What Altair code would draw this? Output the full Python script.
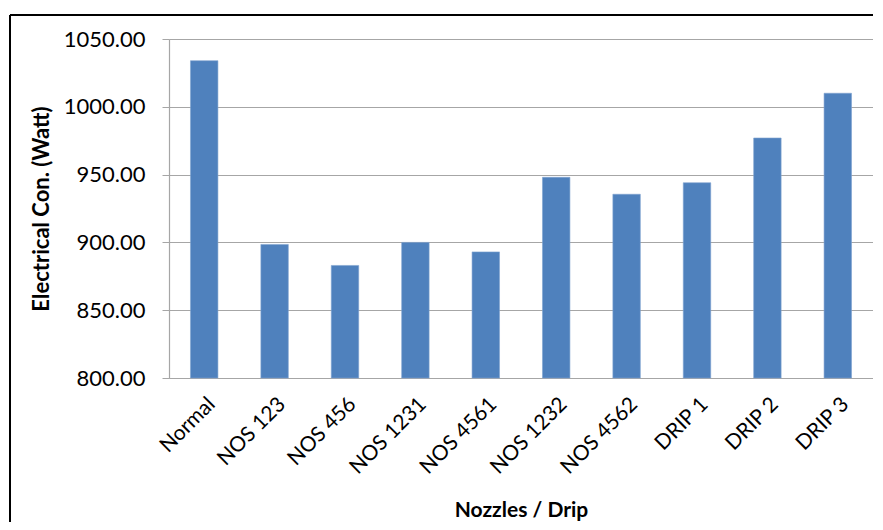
import altair as alt
import pandas as pd

categories = ["Normal", "NOS 123", "NOS 456", "NOS 1231", "NOS 4561",
              "NOS 1232", "NOS 4562", "DRIP 1", "DRIP 2", "DRIP 3"]
values = [1034.0, 898.5, 883.0, 900.0, 893.0, 948.0, 935.5, 944.0, 977.0, 1010.0]
y_ticks = [800, 850, 900, 950, 1000, 1050]

df = pd.DataFrame({"cat": categories, "val": values})

FONT = "Lato"
W, H = 704, 339

bars = alt.Chart(df).mark_bar(color="#4F81BD", stroke="#7FA3D0", strokeWidth=0.6).encode(
    x=alt.X("cat:N", sort=categories,
            scale=alt.Scale(paddingInner=0.61, paddingOuter=0.305),
            axis=alt.Axis(title="Nozzles / Drip", labelAngle=-45, labelFontSize=21,
                          labelFont=FONT, labelColor="#000000", ticks=False,
                          labelPadding=15, domainColor="#A6A6A6", domainWidth=1.2,
                          titleFont=FONT, titleFontSize=21, titleFontWeight="bold",
                          titleColor="#000000", titleX=W / 2, titleY=132,
                          titleBaseline="middle", titleAlign="center")),
    y=alt.Y("val:Q",
            scale=alt.Scale(domain=[800, 1050], zero=False, clamp=True, nice=False),
            axis=alt.Axis(title="Electrical Con. (Watt)", values=y_ticks, format=".2f",
                          labelFontSize=22, labelFont=FONT, labelColor="#000000",
                          labelPadding=17, tickSize=7, tickColor="#A6A6A6",
                          domainColor="#A6A6A6", domainWidth=1.2,
                          grid=True, gridColor="#A6A6A6", gridWidth=1.2,
                          titleFont=FONT, titleFontSize=22, titleFontWeight="bold",
                          titleColor="#000000", titleX=-128, titleY=H / 2,
                          titleAngle=270, titleAlign="center", titleBaseline="middle")),
)

border_left = alt.Chart(df).mark_rule(color="#000000", strokeWidth=1.5, clip=False).encode(
    x=alt.value(-159), y=alt.value(-24), y2=alt.value(H + 200))
border_top = alt.Chart(df).mark_rule(color="#000000", strokeWidth=1.5, clip=False).encode(
    x=alt.value(-159), x2=alt.value(W + 10), y=alt.value(-24))

chart = alt.layer(bars, border_left, border_top).properties(
    width=W, height=H,
    padding={"left": 161, "top": 31, "right": 0, "bottom": 144},
    autosize=alt.AutoSizeParams(type="none"),
).configure_view(stroke=None).configure(background="#FFFFFF")

chart.save("out.html", embed_options={"renderer": "svg", "actions": False})
